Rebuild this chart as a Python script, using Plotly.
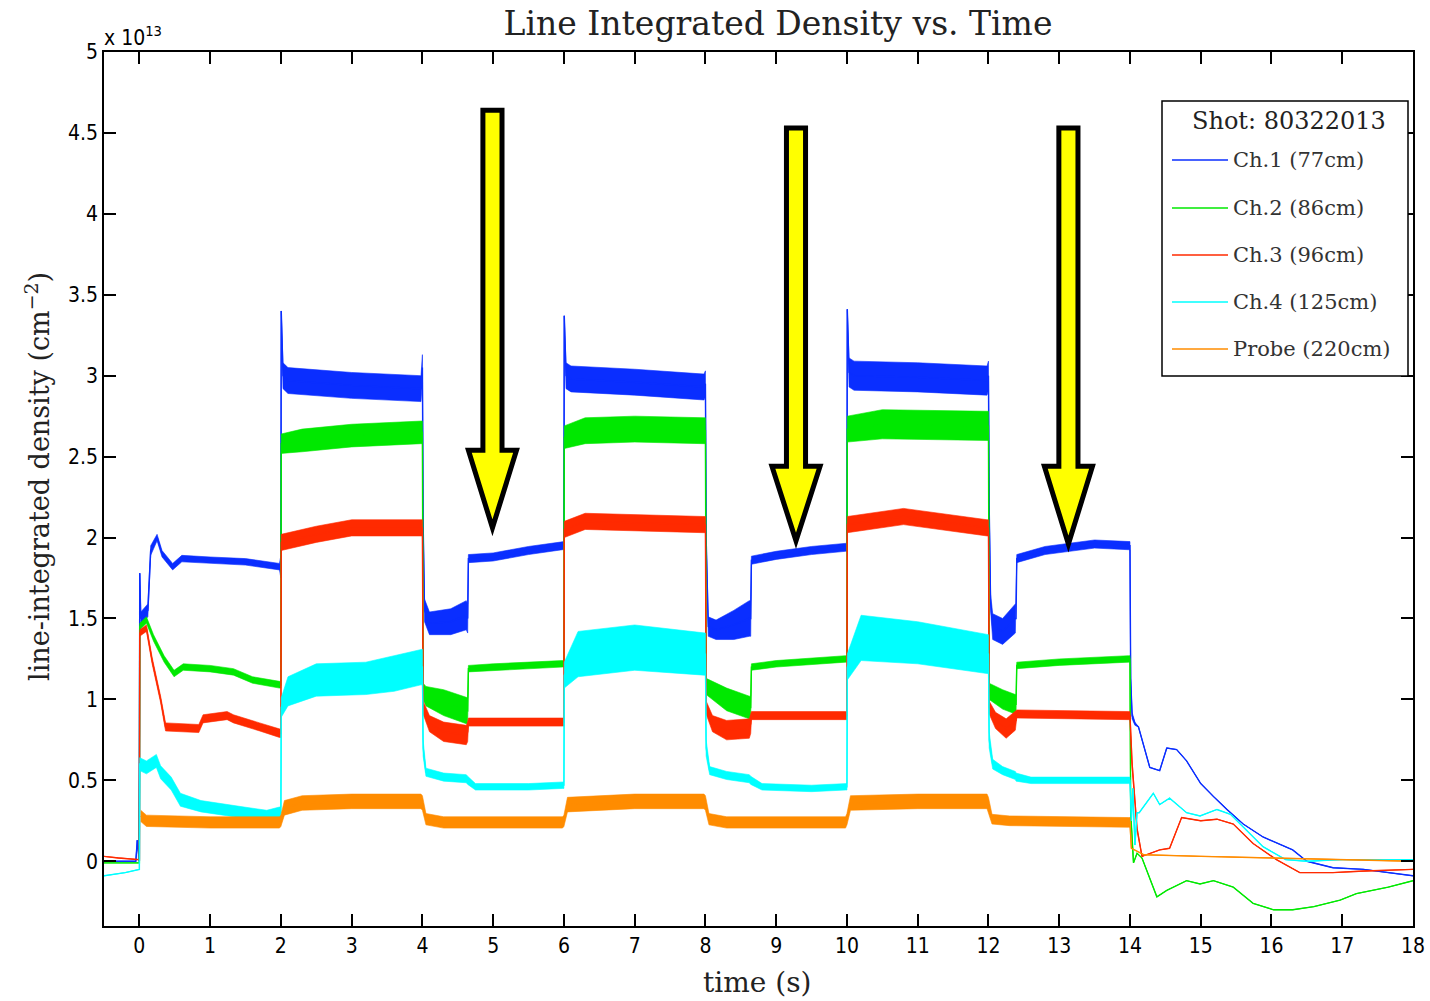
import plotly.graph_objects as go

# ---------------- data (units of 1e13 cm^-2) ----------------
# Ch.1 (77cm)
T_CH1 = [-0.5, -0.05, -0.03, -0.01, 0.0, 0.005, 0.02, 0.12, 0.16, 0.25, 0.32, 0.47, 0.6, 1.0, 1.5, 1.98,
         2.0, 2.005, 2.03, 2.1, 3.0, 3.98,
         4.0, 4.01, 4.03, 4.1, 4.4, 4.62,
         4.64, 4.65, 5.0, 5.5, 5.98,
         6.0, 6.005, 6.03, 6.1, 7.0, 7.98,
         8.0, 8.01, 8.04, 8.15, 8.4, 8.62,
         8.64, 8.65, 9.0, 9.5, 9.98,
         10.0, 10.005, 10.03, 10.1, 11.0, 11.98,
         12.0, 12.01, 12.03, 12.06, 12.2, 12.38,
         12.39, 12.4, 12.8, 13.5, 13.98,
         14.0, 14.01, 14.03, 14.07, 14.12, 14.28, 14.42, 14.52, 14.66, 14.8, 15.0, 15.18, 15.37, 15.6,
         15.88, 16.3, 16.5, 16.87, 17.3, 18.0]
Y_CH1 = [0.0, 0.0, 0.13, 0.0, 0.0, 1.78, 1.5, 1.55, 1.92, 2.0, 1.9, 1.82, 1.87, 1.86, 1.85, 1.82,
         1.82, 3.4, 3.0, 2.97, 2.94, 2.92,
         3.05, 2.1, 1.55, 1.47, 1.48, 1.52,
         1.5, 1.87, 1.88, 1.92, 1.95,
         1.95, 3.37, 3.0, 2.98, 2.96, 2.93,
         2.95, 2.0, 1.45, 1.43, 1.46, 1.5,
         1.5, 1.86, 1.89, 1.92, 1.94,
         1.94, 3.41, 3.02, 3.0, 2.99, 2.97,
         3.0, 2.2, 1.6, 1.45, 1.42, 1.5,
         1.5, 1.87, 1.92, 1.96, 1.95,
         1.95, 1.13, 0.9, 0.85, 0.83, 0.58, 0.56, 0.70, 0.69, 0.62, 0.48, 0.40, 0.32, 0.23,
         0.15, 0.07, 0.0, -0.04, -0.05, -0.09]
NOISE_CH1 = [0.0, 0.0, 0.0, 0.0, 0.0, 0.0, 0.04, 0.04, 0.03, 0.02, 0.02, 0.02, 0.02, 0.02, 0.02, 0.02,
             0.07, 0.0, 0.08, 0.08, 0.08, 0.08,
             0.08, 0.0, 0.07, 0.07, 0.08, 0.09,
             0.09, 0.025, 0.025, 0.025, 0.025,
             0.025, 0.0, 0.08, 0.08, 0.08, 0.08,
             0.08, 0.0, 0.06, 0.06, 0.09, 0.11,
             0.11, 0.025, 0.025, 0.025, 0.025,
             0.025, 0.0, 0.09, 0.09, 0.09, 0.09,
             0.09, 0.0, 0.05, 0.08, 0.08, 0.09,
             0.09, 0.025, 0.025, 0.025, 0.025,
             0.025, 0.0, 0.02, 0.01, 0.0, 0.0, 0.0, 0.0, 0.0, 0.0, 0.0, 0.0, 0.0, 0.0,
             0.0, 0.0, 0.0, 0.0, 0.0, 0.0]

# Ch.2 (86cm)
T_CH2 = [-0.5, 0.0, 0.005, 0.1, 0.2, 0.35, 0.49, 0.62, 1.0, 1.33, 1.6, 1.98,
         2.0, 2.005, 2.3, 3.0, 3.98,
         4.0, 4.01, 4.05, 4.3, 4.62,
         4.64, 4.65, 5.0, 5.98,
         6.0, 6.005, 6.3, 7.0, 7.98,
         8.0, 8.01, 8.3, 8.62,
         8.64, 8.65, 9.0, 9.98,
         10.0, 10.005, 10.5, 11.98,
         12.0, 12.01, 12.2, 12.38,
         12.39, 12.4, 13.0, 13.98,
         14.0, 14.01, 14.05, 14.1, 14.17, 14.38, 14.52, 14.8, 14.99, 15.18, 15.46, 15.74, 16.03,
         16.3, 16.6, 16.97, 17.2, 17.65, 18.0]
Y_CH2 = [-0.01, -0.01, 1.45, 1.49, 1.38, 1.25, 1.16, 1.2, 1.19, 1.17, 1.12, 1.09,
         1.09, 2.58, 2.6, 2.63, 2.65,
         2.65, 1.05, 1.02, 0.98, 0.93,
         0.93, 1.19, 1.2, 1.22,
         1.22, 2.62, 2.66, 2.67, 2.66,
         2.66, 1.08, 1.0, 0.95,
         0.95, 1.2, 1.22, 1.25,
         1.25, 2.67, 2.7, 2.69,
         2.69, 1.05, 1.0, 0.97,
         0.97, 1.21, 1.23, 1.25,
         1.25, 0.3, -0.01, 0.05, 0.02, -0.22, -0.18, -0.12, -0.14, -0.12, -0.16, -0.26, -0.3,
         -0.3, -0.28, -0.24, -0.2, -0.16, -0.12]
NOISE_CH2 = [0.0, 0.0, 0.02, 0.02, 0.02, 0.02, 0.02, 0.02, 0.02, 0.02, 0.02, 0.02,
             0.02, 0.06, 0.07, 0.07, 0.07,
             0.07, 0.05, 0.06, 0.08, 0.08,
             0.08, 0.02, 0.02, 0.02,
             0.02, 0.07, 0.08, 0.08, 0.08,
             0.08, 0.05, 0.07, 0.07,
             0.07, 0.02, 0.02, 0.02,
             0.02, 0.08, 0.09, 0.09,
             0.09, 0.05, 0.06, 0.06,
             0.06, 0.02, 0.02, 0.02,
             0.02, 0.0, 0.0, 0.0, 0.0, 0.0, 0.0, 0.0, 0.0, 0.0, 0.0, 0.0, 0.0,
             0.0, 0.0, 0.0, 0.0, 0.0, 0.0]

# Ch.3 (96cm)
T_CH3 = [-0.5, -0.3, 0.0, 0.005, 0.1, 0.18, 0.3, 0.37, 0.84, 0.9, 1.24, 1.33, 1.7, 1.98,
         2.0, 2.005, 2.5, 3.0, 3.98,
         4.0, 4.01, 4.1, 4.3, 4.62,
         4.64, 4.65, 5.98,
         6.0, 6.005, 6.3, 7.98,
         8.0, 8.01, 8.1, 8.3, 8.62,
         8.64, 8.65, 9.98,
         10.0, 10.005, 10.8, 11.98,
         12.0, 12.01, 12.1, 12.25, 12.38,
         12.39, 12.4, 13.98,
         14.0, 14.03, 14.1, 14.17, 14.42, 14.56, 14.73, 15.0, 15.23, 15.46, 15.74, 16.07, 16.4,
         16.87, 17.3, 18.0]
Y_CH3 = [0.03, 0.02, 0.01, 1.41, 1.44, 1.24, 1.0, 0.83, 0.82, 0.88, 0.9, 0.88, 0.83, 0.79,
         0.79, 1.97, 2.02, 2.06, 2.06,
         2.06, 0.95, 0.85, 0.8, 0.78,
         0.8, 0.86, 0.86,
         0.86, 2.05, 2.1, 2.08,
         2.08, 0.95, 0.85, 0.81, 0.82,
         0.85, 0.9, 0.9,
         0.9, 2.08, 2.13, 2.06,
         2.06, 0.95, 0.87, 0.82, 0.87,
         0.87, 0.91, 0.9,
         0.9, 0.6, 0.2, 0.03, 0.07, 0.08, 0.27, 0.25, 0.26, 0.23, 0.11, 0.01, -0.07,
         -0.07, -0.06, -0.05]
NOISE_CH3 = [0.0, 0.0, 0.0, 0.02, 0.02, 0.02, 0.02, 0.025, 0.025, 0.025, 0.025, 0.025, 0.025, 0.025,
             0.025, 0.05, 0.05, 0.05, 0.05,
             0.05, 0.04, 0.05, 0.06, 0.06,
             0.06, 0.025, 0.025,
             0.025, 0.05, 0.05, 0.05,
             0.05, 0.04, 0.05, 0.06, 0.06,
             0.06, 0.025, 0.025,
             0.025, 0.05, 0.05, 0.05,
             0.05, 0.04, 0.05, 0.06, 0.06,
             0.06, 0.025, 0.025,
             0.025, 0.02, 0.01, 0.0, 0.0, 0.0, 0.0, 0.0, 0.0, 0.0, 0.0, 0.0, 0.0,
             0.0, 0.0, 0.0]

# Ch.4 (125cm)
T_CH4 = [-0.5, -0.2, 0.0, 0.005, 0.1, 0.24, 0.3, 0.45, 0.58, 0.87, 1.48, 1.8, 1.98,
         2.0, 2.005, 2.1, 2.5, 3.2, 3.6, 3.98,
         4.0, 4.01, 4.05, 4.3, 4.62,
         4.64, 4.75, 5.5, 5.98,
         6.0, 6.005, 6.2, 7.0, 7.98,
         8.0, 8.01, 8.06, 8.3, 8.62,
         8.64, 8.8, 9.5, 9.98,
         10.0, 10.005, 10.2, 11.0, 11.98,
         12.0, 12.01, 12.06, 12.2, 12.38,
         12.39, 12.6, 13.98,
         14.0, 14.02, 14.04, 14.07, 14.1, 14.13, 14.33, 14.42, 14.56, 14.8, 14.99, 15.23, 15.42,
         15.65, 15.88, 16.2, 16.5, 17.0, 18.0]
Y_CH4 = [-0.09, -0.07, -0.05, 0.6, 0.58, 0.62, 0.55, 0.48, 0.38, 0.34, 0.3, 0.28, 0.3,
         0.3, 0.95, 1.05, 1.12, 1.13, 1.16, 1.2,
         1.2, 0.7, 0.55, 0.52, 0.51,
         0.5, 0.46, 0.46, 0.47,
         0.47, 1.15, 1.28, 1.32, 1.28,
         1.28, 0.7, 0.56, 0.53, 0.51,
         0.5, 0.46, 0.45, 0.46,
         0.46, 1.2, 1.38, 1.35, 1.28,
         1.28, 0.75, 0.6, 0.56, 0.53,
         0.52, 0.5, 0.5,
         0.5, 0.25, 0.45, 0.1, 0.3, 0.3, 0.42, 0.35, 0.39, 0.3, 0.28, 0.32, 0.29,
         0.19, 0.09, 0.01, 0.0, 0.01, 0.01]
NOISE_CH4 = [0.0, 0.0, 0.0, 0.04, 0.04, 0.04, 0.04, 0.04, 0.04, 0.035, 0.035, 0.035, 0.035,
             0.035, 0.06, 0.09, 0.1, 0.1, 0.11, 0.11,
             0.11, 0.05, 0.025, 0.025, 0.025,
             0.025, 0.02, 0.02, 0.02,
             0.02, 0.08, 0.14, 0.14, 0.13,
             0.13, 0.05, 0.025, 0.025, 0.025,
             0.025, 0.02, 0.02, 0.02,
             0.02, 0.08, 0.14, 0.13, 0.12,
             0.12, 0.05, 0.03, 0.025, 0.025,
             0.025, 0.02, 0.02,
             0.02, 0.0, 0.0, 0.0, 0.0, 0.0, 0.0, 0.0, 0.0, 0.0, 0.0, 0.0, 0.0,
             0.0, 0.0, 0.0, 0.0, 0.0, 0.0]

# Probe (220cm)
T_PROBE = [0.02, 0.1, 1.0, 1.98,
           2.0, 2.05, 2.3, 3.0, 3.98,
           4.0, 4.05, 4.3, 5.98,
           6.0, 6.05, 7.0, 7.98,
           8.0, 8.05, 8.3, 9.98,
           10.0, 10.05, 11.0, 11.98,
           12.0, 12.05, 12.3, 13.98,
           14.0, 14.02, 14.2, 15.0, 16.0, 18.0]
Y_PROBE = [0.28, 0.25, 0.24, 0.24,
           0.25, 0.33, 0.36, 0.37, 0.37,
           0.36, 0.26, 0.24, 0.24,
           0.25, 0.35, 0.37, 0.37,
           0.36, 0.26, 0.24, 0.24,
           0.26, 0.36, 0.37, 0.37,
           0.35, 0.26, 0.25, 0.24,
           0.24, 0.08, 0.04, 0.03, 0.02, 0.0]
NOISE_PROBE = [0.035, 0.035, 0.035, 0.035,
               0.035, 0.045, 0.045, 0.045, 0.045,
               0.045, 0.035, 0.035, 0.035,
               0.035, 0.045, 0.045, 0.045,
               0.045, 0.035, 0.035, 0.035,
               0.035, 0.045, 0.045, 0.045,
               0.045, 0.03, 0.03, 0.03,
               0.03, 0.0, 0.0, 0.0, 0.0, 0.0]

SERIES_NAMES = ["Ch.1 (77cm)", "Ch.2 (86cm)", "Ch.3 (96cm)", "Ch.4 (125cm)", "Probe (220cm)"]
LEGEND_TITLE = "Shot: 80322013"
X_TICKS = list(range(0, 19))
Y_TICKS = [0, 0.5, 1, 1.5, 2, 2.5, 3, 3.5, 4, 4.5, 5]
Y_TICK_LABELS = ["0", "0.5", "1", "1.5", "2", "2.5", "3", "3.5", "4", "4.5", "5"]

COLORS = ["#0A2EFF", "#00E800", "#FF2A00", "#00FFFF", "#FF8C00"]

series = [
    (T_CH1, Y_CH1, NOISE_CH1),
    (T_CH2, Y_CH2, NOISE_CH2),
    (T_CH3, Y_CH3, NOISE_CH3),
    (T_CH4, Y_CH4, NOISE_CH4),
    (T_PROBE, Y_PROBE, NOISE_PROBE),
]

SERIF = "DejaVu Serif, Liberation Serif, serif"
NARROW = "Liberation Sans Narrow, DejaVu Sans Condensed, Arial Narrow, sans-serif"

fig = go.Figure()
for i, ((t, y, n), name, col) in enumerate(zip(series, SERIES_NAMES, COLORS)):
    upper = [a + b for a, b in zip(y, n)]
    lower = [a - b for a, b in zip(y, n)]
    fig.add_trace(go.Scatter(
        x=list(t) + list(t)[::-1], y=upper + lower[::-1],
        mode="lines", fill="toself", fillcolor=col,
        line=dict(color=col, width=0.6), hoverinfo="skip",
        showlegend=False, legendgroup=f"g{i}"))
    fig.add_trace(go.Scatter(
        x=t, y=y, mode="lines", name=name, showlegend=False,
        line=dict(color=col, width=1.4), legendgroup=f"g{i}"))

# yellow arrows
arrows = [(4.99, 4.64, 2.54, 2.06), (9.28, 4.53, 2.44, 1.98), (13.13, 4.53, 2.44, 1.96)]
hw, HW = 0.135, 0.34
for cx, ytop, ybase, ytip in arrows:
    path = (f"M {cx-hw},{ytop} L {cx+hw},{ytop} L {cx+hw},{ybase} L {cx+HW},{ybase} "
            f"L {cx},{ytip} L {cx-HW},{ybase} L {cx-hw},{ybase} Z")
    fig.add_shape(type="path", path=path, xref="x", yref="y",
                  fillcolor="#FFFF00", line=dict(color="black", width=5), layer="above")

L, R, T, B = 104, 17, 52, 75
W, H = 1430, 1001
pw, ph = W - L - R, H - T - B


def px(xp):
    return (xp - L) / pw


def py(yp):
    return (H - B - yp) / ph


fig.update_layout(
    width=W, height=H,
    margin=dict(l=L, r=R, t=T, b=B, autoexpand=False),
    paper_bgcolor="white", plot_bgcolor="white",
    title=dict(text="Line Integrated Density vs. Time", x=778 / W, xanchor="center",
               y=1 - 23 / H, yanchor="middle", font=dict(family=SERIF, size=33, color="#222")),
    xaxis=dict(range=[-0.5, 18], tickvals=X_TICKS, ticks="inside", ticklen=12, tickwidth=1.5,
               tickcolor="black", showline=True, linecolor="black", linewidth=1.5, mirror="ticks",
               showgrid=False, zeroline=False, automargin=False,
               tickfont=dict(family=NARROW, size=21, color="black")),
    yaxis=dict(range=[-0.4, 5], tickvals=Y_TICKS, ticktext=Y_TICK_LABELS, ticks="inside",
               ticklen=12, tickwidth=1.5, tickcolor="black", showline=True, linecolor="black",
               linewidth=1.5, mirror="ticks", showgrid=False, zeroline=False, automargin=False,
               tickfont=dict(family=NARROW, size=21, color="black")),
    showlegend=False,
)

# legend box drawn by hand (as in the reference)
fig.add_shape(type="rect", xref="paper", yref="paper", x0=px(1162), x1=px(1408),
              y0=py(376), y1=py(101), fillcolor="white", line=dict(color="black", width=1.5),
              layer="above")
fig.add_annotation(text=LEGEND_TITLE, xref="paper", yref="paper", x=px(1289), y=py(121),
                   xanchor="center", yanchor="middle", showarrow=False,
                   font=dict(family=SERIF, size=24, color="#222"))
LEG_Y = [160, 208, 255, 302, 349]
for name, col, ly in zip(SERIES_NAMES, COLORS, LEG_Y):
    fig.add_shape(type="line", xref="paper", yref="paper", x0=px(1172), x1=px(1228),
                  y0=py(ly), y1=py(ly), line=dict(color=col, width=1.5), layer="above")
    fig.add_annotation(text=name, xref="paper", yref="paper", x=px(1231), y=py(ly),
                       xanchor="left", yanchor="middle", showarrow=False,
                       font=dict(family=SERIF, size=21, color="#333"))

fig.add_annotation(text="x 10<sup>13</sup>", xref="paper", yref="paper",
                   x=0, y=1, xanchor="left", yanchor="bottom", showarrow=False, xshift=-2,
                   font=dict(family=NARROW, size=21, color="black"))
fig.add_annotation(text="line-integrated density (cm<sup>−2</sup>)", xref="paper", yref="paper",
                   x=px(37), y=py(477), textangle=-90, showarrow=False,
                   xanchor="center", yanchor="middle",
                   font=dict(family=SERIF, size=27, color="#222"))
fig.add_annotation(text="time (s)", xref="paper", yref="paper",
                   x=px(757), y=py(982), showarrow=False,
                   xanchor="center", yanchor="middle",
                   font=dict(family=SERIF, size=28, color="#222"))

fig.write_html("out.html")
